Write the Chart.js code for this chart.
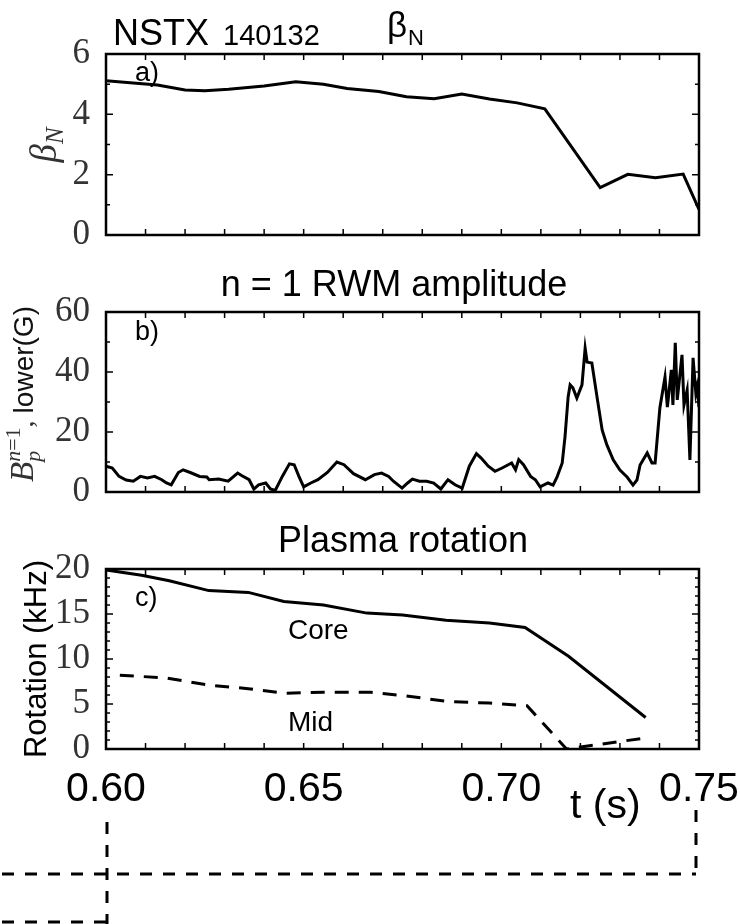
<!DOCTYPE html>
<html>
<head>
<meta charset="utf-8">
<script src="https://cdn.jsdelivr.net/npm/chart.js@4"></script>
<style>
  html, body { margin: 0; padding: 0; background: #fff; }
  #wrap { position: relative; width: 740px; height: 924px; overflow: hidden; }
  canvas { position: absolute; left: 0; }
</style>
</head>
<body>
<div id="wrap">
  <canvas id="betaChart" width="740" height="250" style="top:0px"></canvas>
  <canvas id="rwmChart" width="740" height="260" style="top:250px"></canvas>
  <canvas id="rotChart" width="740" height="414" style="top:510px"></canvas>
</div>
<script>
// a) beta_N
const betaT = [0.600, 0.613, 0.620, 0.625, 0.631, 0.640, 0.648, 0.655, 0.661, 0.669, 0.676, 0.683, 0.690, 0.697, 0.704, 0.711, 0.725, 0.732, 0.739, 0.746, 0.750];
const betaN = [5.11, 4.97, 4.81, 4.78, 4.83, 4.94, 5.08, 5.00, 4.86, 4.76, 4.58, 4.52, 4.67, 4.51, 4.38, 4.18, 1.57, 2.01, 1.90, 2.02, 0.85];

// b) n=1 RWM amplitude (G)
const rwmT = [0.6000, 0.6016, 0.6033, 0.6051, 0.6069, 0.6087, 0.6105, 0.6123, 0.6141, 0.6153,
  0.6165, 0.6183, 0.6195, 0.6213, 0.6237, 0.6255, 0.6261, 0.6285, 0.6309, 0.6333,
  0.6344, 0.6362, 0.6374, 0.6386, 0.6404, 0.6416, 0.6428, 0.6446, 0.6464, 0.6476,
  0.6488, 0.6500, 0.6518, 0.6536, 0.6560, 0.6584, 0.6602, 0.6626, 0.6656, 0.6679,
  0.6697, 0.6715, 0.6727, 0.6749, 0.6763, 0.6775, 0.6793, 0.6811, 0.6829, 0.6847,
  0.6865, 0.6883, 0.6901, 0.6919, 0.6937, 0.6949, 0.6967, 0.6984, 0.7002, 0.7026,
  0.7036, 0.7044, 0.7056, 0.7074, 0.7086, 0.7098, 0.7118, 0.7131, 0.7141, 0.7154,
  0.7161, 0.7169, 0.7174, 0.7181, 0.7191, 0.7204, 0.7212, 0.7217, 0.7229, 0.7242,
  0.7255, 0.7267, 0.7283, 0.7300, 0.7318, 0.7333, 0.7343, 0.7351, 0.7369, 0.7381,
  0.7389, 0.7401, 0.7414, 0.7420, 0.7430, 0.7434, 0.7440, 0.7445, 0.7457, 0.7462,
  0.7470, 0.7477, 0.7485, 0.7492, 0.7495, 0.7500];
const rwmB = [8.6, 8.0, 5.2, 4.0, 3.6, 5.2, 4.7, 5.2, 4.1, 3.0,
  2.4, 6.5, 7.4, 6.5, 5.2, 5.0, 4.1, 4.3, 3.6, 6.3,
  5.4, 4.1, 1.0, 2.4, 3.0, 1.0, 0.5, 5.2, 9.4, 9.1,
  5.2, 1.7, 3.0, 4.1, 6.5, 10.0, 9.1, 6.1, 4.1, 5.8,
  6.3, 5.2, 3.6, 1.3, 3.0, 4.3, 3.6, 3.6, 3.0, 1.0,
  4.1, 2.4, 1.3, 8.6, 12.8, 11.3, 8.6, 6.9, 8.0, 9.7,
  7.4, 10.8, 9.1, 5.2, 4.1, 1.7, 3.0, 2.3, 5.0, 9.7,
  18.3, 31.7, 35.7, 34.7, 31.3, 35.7, 48.0, 43.3, 43.0, 31.7,
  20.7, 15.7, 10.7, 7.3, 5.0, 2.3, 4.0, 9.0, 13.0, 9.7,
  9.7, 28.0, 38.3, 28.3, 40.7, 29.0, 49.7, 30.7, 45.7, 29.0,
  34.0, 10.7, 44.7, 33.0, 35.0, 28.3];

// c) plasma rotation (kHz)
const coreT = [0.600, 0.609, 0.616, 0.626, 0.636, 0.645, 0.655, 0.666, 0.675, 0.686, 0.697, 0.706, 0.717, 0.7365];
const coreF = [19.9, 19.3, 18.7, 17.6, 17.4, 16.4, 16.0, 15.1, 14.9, 14.3, 14.0, 13.5, 10.3, 3.5];
const midT = [0.6035, 0.615, 0.626, 0.636, 0.645, 0.655, 0.667, 0.676, 0.686, 0.697, 0.7065, 0.7165, 0.736];
const midF = [8.2, 7.9, 7.1, 6.7, 6.2, 6.3, 6.3, 5.9, 5.3, 5.1, 4.8, 0.0, 1.2];

const xTickLabels = ['0.60', '0.65', '0.70', '0.75'];

const SANS = '"Liberation Sans", Arial, sans-serif';
const SERIF = '"Liberation Serif", "DejaVu Serif", serif';

function pts(xs, ys) {
    return xs.map((x, i) => ({ x: x, y: ys[i] }));
}

function text(ctx, str, x, y, font, align) {
    ctx.font = font;
    ctx.textAlign = align || 'left';
    ctx.textBaseline = 'alphabetic';
    ctx.fillText(str, x, y);
}

// rotated axis title made of pieces (sub/superscripts)
function rotatedTitle(ctx, cx, cy, parts) {
    ctx.save();
    ctx.translate(cx, cy);
    ctx.rotate(-Math.PI / 2);
    ctx.textAlign = 'left';
    ctx.textBaseline = 'alphabetic';
    let total = 0;
    parts.forEach(p => {
        ctx.font = p.font;
        p.w = ctx.measureText(p.t).width;
        if (p.advance !== false) total += p.w;
    });
    let x = -total / 2;
    parts.forEach(p => {
        ctx.font = p.font;
        ctx.fillStyle = p.color || '#000';
        ctx.fillText(p.t, x, p.dy || 0);
        if (p.advance !== false) x += p.w;
    });
    ctx.restore();
}

// box frame with inward ticks on all four sides
function framePlugin(major) {
    return {
        id: 'frame',
        afterDatasetsDraw(chart) {
            const ctx = chart.ctx, a = chart.chartArea;
            const xs = chart.scales.x, ys = chart.scales.y;
            ctx.save();
            ctx.strokeStyle = '#000';
            ctx.lineWidth = 1.5;
            ctx.beginPath();
            ys.ticks.forEach(t => {
                const py = ys.getPixelForValue(t.value);
                const len = Math.round(t.value) % major === 0 ? 7 : 4;
                ctx.moveTo(a.left, py); ctx.lineTo(a.left + len, py);
                ctx.moveTo(a.right, py); ctx.lineTo(a.right - len, py);
            });
            xs.ticks.forEach(t => {
                const px = xs.getPixelForValue(t.value);
                ctx.moveTo(px, a.top); ctx.lineTo(px, a.top + 6);
                ctx.moveTo(px, a.bottom); ctx.lineTo(px, a.bottom - 6);
            });
            ctx.stroke();
            ctx.lineWidth = 2.5;
            ctx.strokeRect(a.left, a.top, a.right - a.left, a.bottom - a.top);
            ctx.restore();
        }
    };
}

// label overflow must not push the plot frame around
function noPad(s) {
    s.paddingTop = 0; s.paddingBottom = 0; s.paddingLeft = 0; s.paddingRight = 0;
}

function xAxis(height, showLabels) {
    return {
        type: 'linear',
        min: 0.60,
        max: 0.75,
        grid: { display: false, drawTicks: false },
        border: { display: false },
        ticks: {
            display: showLabels,
            stepSize: 0.01,
            autoSkip: false,
            maxRotation: 0,
            minRotation: 0,
            padding: 16,
            color: '#000',
            font: { family: SANS, size: 41 },
            callback: function(v) {
                const k = Math.round(v * 100);
                return k % 5 === 0 ? xTickLabels[(k - 60) / 5] : '';
            }
        },
        afterFit: function(s) { s.height = height; noPad(s); }
    };
}

function yAxis(max, step, labelEvery) {
    return {
        min: 0,
        max: max,
        grid: { display: false, drawTicks: false },
        border: { display: false },
        ticks: {
            stepSize: step,
            autoSkip: false,
            padding: 16,
            color: '#333',
            font: { family: SERIF, size: 35 },
            callback: function(v) {
                return Math.round(v) % labelEvery === 0 ? v : '';
            }
        },
        afterFit: function(s) { s.width = 106; noPad(s); }
    };
}

function lineSet(data, dash) {
    return {
        data: data,
        borderColor: '#000',
        borderWidth: 3,
        borderDash: dash || [],
        pointRadius: 0,
        tension: 0,
        fill: false
    };
}

const common = {
    responsive: false,
    animation: false,
    plugins: { legend: { display: false }, tooltip: { enabled: false } }
};

function layoutPad(top) {
    return { padding: { top: top, right: 41, bottom: 0, left: 0 } };
}

// 베타 패널
new Chart(document.getElementById('betaChart'), {
    type: 'line',
    data: { datasets: [lineSet(pts(betaT, betaN))] },
    options: Object.assign({}, common, {
        layout: layoutPad(54),
        scales: { x: xAxis(15, false), y: yAxis(6, 1, 2) }
    }),
    plugins: [framePlugin(2), {
        id: 'labelsA',
        afterDraw(chart) {
            const ctx = chart.ctx;
            ctx.save();
            ctx.fillStyle = '#000';
            text(ctx, 'NSTX', 113, 45, '36px ' + SANS);
            text(ctx, '140132', 223, 45, '29px ' + SANS);
            text(ctx, 'β', 387, 37, '35px ' + SANS);
            text(ctx, 'N', 408, 45, '22px ' + SANS);
            text(ctx, 'a)', 135, 81, '27px ' + SANS);
            rotatedTitle(ctx, 56, 145, [
                { t: 'β', font: 'italic 37px ' + SERIF, color: '#333' },
                { t: 'N', font: 'italic 25px ' + SERIF, dy: 7, color: '#333' }
            ]);
            ctx.restore();
        }
    }]
});

// RWM 진폭 패널
new Chart(document.getElementById('rwmChart'), {
    type: 'line',
    data: { datasets: [lineSet(pts(rwmT, rwmB))] },
    options: Object.assign({}, common, {
        layout: layoutPad(62),
        scales: { x: xAxis(18, false), y: yAxis(60, 10, 20) }
    }),
    plugins: [framePlugin(20), {
        id: 'labelsB',
        afterDraw(chart) {
            const ctx = chart.ctx;
            ctx.save();
            ctx.fillStyle = '#000';
            text(ctx, 'n = 1 RWM amplitude', 394, 46, '36px ' + SANS, 'center');
            text(ctx, 'b)', 135, 90, '27px ' + SANS);
            rotatedTitle(ctx, 33, 144, [
                { t: 'B', font: 'italic 33px ' + SERIF, color: '#333' },
                { t: 'p', font: 'italic 22px ' + SERIF, dy: 7, advance: false, color: '#333' },
                { t: 'n', font: 'italic 22px ' + SERIF, dy: -13, color: '#333' },
                { t: '=1', font: '22px ' + SERIF, dy: -13, color: '#333' },
                { t: ', ', font: '28px ' + SERIF, color: '#333' },
                { t: 'lower(G)', font: '28px ' + SANS, color: '#111' }
            ]);
            ctx.restore();
        }
    }]
});

// 플라즈마 회전 패널
new Chart(document.getElementById('rotChart'), {
    type: 'line',
    data: { datasets: [lineSet(pts(coreT, coreF)), lineSet(pts(midT, midF), [14, 10])] },
    options: Object.assign({}, common, {
        layout: layoutPad(59),
        scales: { x: xAxis(175, true), y: yAxis(20, 1, 5) }
    }),
    plugins: [framePlugin(5), {
        id: 'labelsC',
        afterDraw(chart) {
            const ctx = chart.ctx, xs = chart.scales.x;
            ctx.save();
            ctx.fillStyle = '#000';
            text(ctx, 'Plasma rotation', 403, 42, '36px ' + SANS, 'center');
            text(ctx, 'c)', 135, 96, '27px ' + SANS);
            text(ctx, 'Core', 288, 129, '28px ' + SANS);
            text(ctx, 'Mid', 288, 221, '28px ' + SANS);
            text(ctx, 't (s)', 570, 308, '41px ' + SANS);
            rotatedTitle(ctx, 46, 149, [
                { t: 'Rotation (kHz)', font: '31px ' + SANS }
            ]);
            // dashed guide lines under the time axis
            const x0 = xs.getPixelForValue(xs.min) + 1;
            const x1 = xs.getPixelForValue(xs.max) - 3;
            ctx.strokeStyle = '#000';
            ctx.lineWidth = 3;
            ctx.setLineDash([12, 11]);
            ctx.beginPath();
            ctx.moveTo(x0, 312); ctx.lineTo(x0, 414);
            ctx.moveTo(2, 364); ctx.lineTo(x1, 364);
            ctx.moveTo(x1, 300); ctx.lineTo(x1, 364);
            ctx.moveTo(2, 412); ctx.lineTo(x0, 412);
            ctx.stroke();
            ctx.restore();
        }
    }]
});
</script>
</body>
</html>
